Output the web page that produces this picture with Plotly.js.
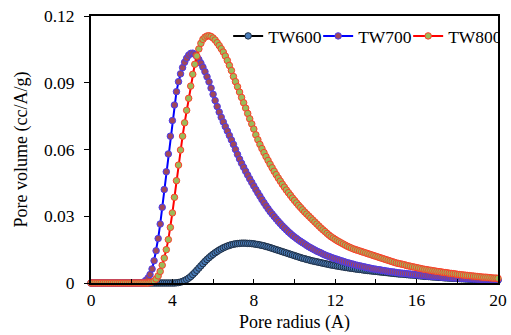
<!DOCTYPE html>
<html>
<head>
<meta charset="utf-8">
<script src="https://cdn.plot.ly/plotly-3.0.1.min.js"></script>
<style>html,body{margin:0;padding:0;background:#fff;}#chart{width:511px;height:335px;}</style>
</head>
<body>
<div id="chart"></div>
<script>
// Pore radius sampled from 0 to 20 A in steps of 0.1 A (x0 / dx below)
var radiusStart = 0;
var radiusStep = 0.1;
var seriesNames = ["TW600", "TW700", "TW800"];

var tw600 = [
  0,0,0,0,0,0,0,0,0,0,
  0,0,0,0,0,0,0,0,0,0,
  0,0,0,0,0,0,0,0,0,0,
  0,0,0,0,0,0,0,0,0,0,
  0,0,0.0001,0.0002,0.0004,0.0007,0.0011,0.0016,0.0022,0.0029,
  0.0038,0.0047,0.0057,0.0067,0.0077,0.0087,0.0097,0.0106,0.0114,0.0122,
  0.0129,0.0136,0.0142,0.0148,0.0153,0.0158,0.0162,0.0166,0.0169,0.0172,
  0.0174,0.0176,0.0177,0.0178,0.0179,0.0179,0.0179,0.0178,0.0178,0.0177,
  0.0176,0.0174,0.0173,0.0171,0.0169,0.0167,0.0164,0.0162,0.0159,0.0156,
  0.0153,0.0150,0.0147,0.0144,0.0141,0.0138,0.0135,0.0132,0.0129,0.0126,
  0.0123,0.0120,0.0117,0.0114,0.0111,0.0109,0.0106,0.0104,0.0101,0.0099,
  0.0097,0.0095,0.0093,0.0091,0.0089,0.0087,0.0085,0.0083,0.0081,0.0080,
  0.0078,0.0076,0.0075,0.0073,0.0072,0.0070,0.0069,0.0067,0.0066,0.0065,
  0.0063,0.0062,0.0061,0.0060,0.0058,0.0057,0.0056,0.0055,0.0054,0.0053,
  0.0052,0.0051,0.0050,0.0049,0.0048,0.0047,0.0046,0.0045,0.0044,0.0043,
  0.0042,0.0041,0.0040,0.0040,0.0039,0.0038,0.0037,0.0036,0.0036,0.0035,
  0.0034,0.0033,0.0032,0.0031,0.0030,0.0030,0.0029,0.0028,0.0027,0.0027,
  0.0026,0.0025,0.0025,0.0024,0.0023,0.0023,0.0022,0.0022,0.0021,0.0021,
  0.0020,0.0020,0.0019,0.0019,0.0018,0.0018,0.0017,0.0017,0.0016,0.0016,
  0.0015,0.0015,0.0015,0.0014,0.0014,0.0014,0.0013,0.0013,0.0013,0.0012,
  0.0012
];

var tw700 = [
  0,0,0,0,0,0,0,0,0,0,
  0,0,0,0,0,0,0,0,0,0,
  0,0,0,0,0,0,0.0005,0.0012,0.0022,0.0038,
  0.0063,0.0100,0.0145,0.0200,0.0265,0.0340,0.0420,0.0500,0.0580,0.0660,
  0.0730,0.0800,0.0860,0.0905,0.0940,0.0968,0.0992,0.1010,0.1024,0.1032,
  0.1033,0.1028,0.1018,0.1004,0.0988,0.0970,0.0950,0.0927,0.0904,0.0876,
  0.0848,0.0820,0.0793,0.0768,0.0745,0.0724,0.0703,0.0683,0.0663,0.0643,
  0.0623,0.0600,0.0578,0.0557,0.0538,0.0520,0.0502,0.0485,0.0468,0.0452,
  0.0436,0.0420,0.0405,0.0390,0.0375,0.0361,0.0347,0.0334,0.0321,0.0310,
  0.0299,0.0288,0.0277,0.0267,0.0257,0.0248,0.0239,0.0230,0.0222,0.0214,
  0.0207,0.0200,0.0193,0.0187,0.0181,0.0175,0.0169,0.0163,0.0158,0.0153,
  0.0148,0.0143,0.0139,0.0135,0.0130,0.0126,0.0122,0.0119,0.0115,0.0112,
  0.0109,0.0106,0.0103,0.0100,0.0097,0.0094,0.0091,0.0089,0.0086,0.0084,
  0.0081,0.0079,0.0077,0.0075,0.0073,0.0071,0.0069,0.0067,0.0065,0.0063,
  0.0062,0.0060,0.0059,0.0057,0.0056,0.0054,0.0053,0.0051,0.0050,0.0049,
  0.0047,0.0046,0.0045,0.0044,0.0043,0.0042,0.0041,0.0040,0.0039,0.0038,
  0.0037,0.0036,0.0035,0.0034,0.0033,0.0032,0.0031,0.0031,0.0030,0.0029,
  0.0028,0.0028,0.0027,0.0026,0.0026,0.0025,0.0024,0.0024,0.0023,0.0023,
  0.0022,0.0022,0.0021,0.0021,0.0020,0.0020,0.0019,0.0019,0.0018,0.0018,
  0.0017,0.0017,0.0016,0.0016,0.0016,0.0015,0.0015,0.0014,0.0014,0.0014,
  0.0013
];

var tw800 = [
  0,0,0,0,0,0,0,0,0,0,
  0,0,0,0,0,0,0,0,0,0,
  0,0,0,0,0,0,0,0,0,0.0002,
  0.0004,0.0009,0.0018,0.0032,0.0052,0.0080,0.0112,0.0150,0.0195,0.0250,
  0.0315,0.0385,0.0460,0.0530,0.0598,0.0660,0.0720,0.0776,0.0830,0.0885,
  0.0938,0.0983,0.1020,0.1052,0.1077,0.1095,0.1105,0.1110,0.1111,0.1108,
  0.1101,0.1092,0.1080,0.1067,0.1053,0.1038,0.1020,0.1000,0.0978,0.0955,
  0.0928,0.0905,0.0882,0.0858,0.0834,0.0810,0.0786,0.0762,0.0738,0.0715,
  0.0692,0.0666,0.0644,0.0623,0.0604,0.0586,0.0568,0.0551,0.0534,0.0518,
  0.0502,0.0487,0.0472,0.0458,0.0444,0.0431,0.0418,0.0406,0.0394,0.0382,
  0.0371,0.0360,0.0349,0.0339,0.0329,0.0319,0.0310,0.0301,0.0292,0.0283,
  0.0274,0.0265,0.0256,0.0247,0.0239,0.0231,0.0223,0.0215,0.0208,0.0202,
  0.0196,0.0190,0.0185,0.0180,0.0175,0.0170,0.0165,0.0161,0.0157,0.0153,
  0.0150,0.0147,0.0144,0.0141,0.0138,0.0135,0.0132,0.0129,0.0126,0.0123,
  0.0120,0.0117,0.0114,0.0111,0.0108,0.0105,0.0102,0.0099,0.0096,0.0093,
  0.0090,0.0088,0.0086,0.0084,0.0082,0.0079,0.0077,0.0075,0.0073,0.0071,
  0.0069,0.0067,0.0065,0.0063,0.0061,0.0060,0.0058,0.0057,0.0055,0.0054,
  0.0052,0.0051,0.0050,0.0048,0.0047,0.0046,0.0044,0.0043,0.0042,0.0041,
  0.0039,0.0038,0.0037,0.0036,0.0035,0.0034,0.0033,0.0032,0.0031,0.0030,
  0.0029,0.0028,0.0027,0.0026,0.0026,0.0025,0.0024,0.0023,0.0022,0.0022,
  0.0021
];

var xTickVals = [0, 4, 8, 12, 16, 20];
var yTickVals = [0, 0.03, 0.06, 0.09, 0.12];
var yTickText = ["0", "0.03", "0.06", "0.09", "0.12"];

var serif = "'Liberation Serif', 'Times New Roman', serif";
var fs = 17.5;

function mk(name, y, lineColor, fillColor, edgeColor) {
  return {
    type: "scatter", mode: "lines+markers", name: name,
    x0: radiusStart, dx: radiusStep, y: y,
    line: {color: lineColor, width: 2},
    marker: {size: 6.5, color: fillColor, line: {color: edgeColor, width: 1}},
    cliponaxis: false
  };
}

var data = [
  mk(seriesNames[0], tw600, "#000000", "#4a7ebb", "#1f2f45"),
  mk(seriesNames[1], tw700, "#0000ff", "#a0485a", "#4b3cf0"),
  mk(seriesNames[2], tw800, "#ff0000", "#9bbb59", "#ff3b2a")
];

var layout = {
  width: 511, height: 335,
  margin: {l: 91, r: 13, t: 16, b: 52, autoexpand: false},
  paper_bgcolor: "#fff", plot_bgcolor: "#fff",
  font: {family: serif, size: fs, color: "#000"},
  showlegend: true,
  legend: {
    orientation: "h", x: 0.337, xanchor: "left", y: 0.925, yanchor: "middle",
    bgcolor: "rgba(0,0,0,0)", font: {family: serif, size: fs, color: "#000"},
    itemwidth: 30, entrywidth: 45, tracegroupgap: 0, borderwidth: 0
  },
  xaxis: {
    range: [0, 20], tickvals: xTickVals, ticks: "inside", ticklen: 4, tickwidth: 1,
    tickcolor: "#000",
    minor: {dtick: 2, ticks: "inside", ticklen: 4, tickcolor: "#000", showgrid: false},
    showline: true, linecolor: "#000", linewidth: 2, mirror: true,
    showgrid: false, zeroline: false,
    tickfont: {family: serif, size: fs, color: "#000"},
    title: {text: "Pore radius (A)", font: {family: serif, size: 18, color: "#000"}, standoff: 6}
  },
  yaxis: {
    range: [0, 0.12], tickvals: yTickVals, ticktext: yTickText,
    ticks: "outside", ticklen: 5, tickwidth: 1, tickcolor: "#000",
    showline: true, linecolor: "#000", linewidth: 2, mirror: true,
    showgrid: false, zeroline: false, ticklabelstandoff: 6,
    tickfont: {family: serif, size: fs, color: "#000"},
    title: {text: "Pore volume (cc/A/g)", font: {family: serif, size: 18, color: "#000"}, standoff: 12}
  }
};

Plotly.newPlot("chart", data, layout, {displayModeBar: false, staticPlot: true});
</script>
</body>
</html>
